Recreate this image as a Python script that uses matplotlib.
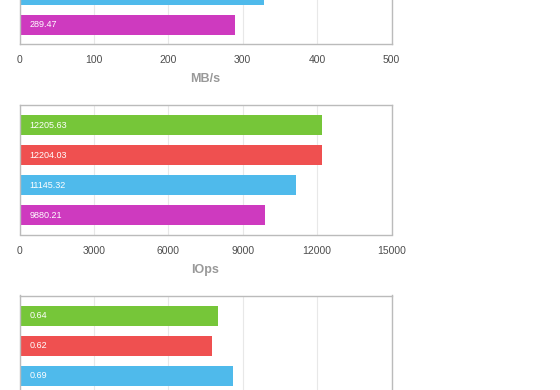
import matplotlib
matplotlib.use("Agg")
import matplotlib.pyplot as plt

plt.rcParams['font.family'] = ['Liberation Sans', 'DejaVu Sans']

colors = ['#76c639', '#ef5050', '#4fbaeb', '#ce3abf']

# panel 1: throughput (MB/s) - top two bars are outside the crop, estimated
mbs_values = [358.0, 357.5, 328.6, 289.47]
mbs_ticks = [0, 100, 200, 300, 400, 500]
# panel 2: IOps
iops_values = [12205.63, 12204.03, 11145.32, 9880.21]
iops_ticks = [0, 3000, 6000, 9000, 12000, 15000]
# panel 3: latency - last bar outside crop, estimated
lat_values = [0.64, 0.62, 0.69, 0.72]
lat_ticks = [0, 0.24, 0.48, 0.72, 0.96, 1.2]

W, H = 560, 390
fig = plt.figure(figsize=(W / 100, H / 100), dpi=100)
axes = []

def panel(top_px, values, ticks, xlabel, fmt):
    left = 19.5
    width = 372
    height = 129.5
    ax = fig.add_axes([left / W, (H - top_px - height) / H, width / W, height / H])
    ypos = list(range(len(values)))
    ax.barh(ypos, values, height=0.667, color=colors, zorder=2)
    ax.set_ylim(len(values) - 1 + 0.633, -0.667)
    ax.set_xlim(ticks[0], ticks[-1])
    ax.set_xticks(ticks)
    ax.set_xticklabels([str(t) for t in ticks], fontsize=7.5, color='#4d4d4d')
    ax.set_yticks([])
    ax.tick_params(axis='x', length=0, pad=8)
    ax.grid(axis='x', color='#e8e8e8', linewidth=0.8, zorder=0)
    for s in ax.spines.values():
        s.set_color('#bbbbbb')
        s.set_linewidth(1)
    ax.set_xlabel(xlabel, fontsize=9, color='#999999', fontweight='bold', labelpad=6)
    for y, v in zip(ypos, values):
        ax.annotate(fmt(v), xy=(0, y), xytext=(7, 0), textcoords='offset points',
                    ha='left', va='center', fontsize=6.5, color='white', zorder=3)
    axes.append(ax)
    return ax

panel(-85.5, mbs_values, mbs_ticks, 'MB/s', lambda v: f'{v:.2f}')
panel(105, iops_values, iops_ticks, 'IOps', lambda v: f'{v:.2f}')
panel(295.5, lat_values, lat_ticks, 'ms', lambda v: f'{v:.2f}')

# hide texts that fall outside the cropped view (as in the reference crop)
fig.canvas.draw()
renderer = fig.canvas.get_renderer()
for ax in axes:
    texts = list(ax.texts) + list(ax.get_xticklabels()) + [ax.xaxis.label]
    for t in texts:
        bb = t.get_window_extent(renderer)
        if bb.y0 < 0 or bb.y1 > H:
            t.set_visible(False)

fig.savefig('out.png', dpi=100)
